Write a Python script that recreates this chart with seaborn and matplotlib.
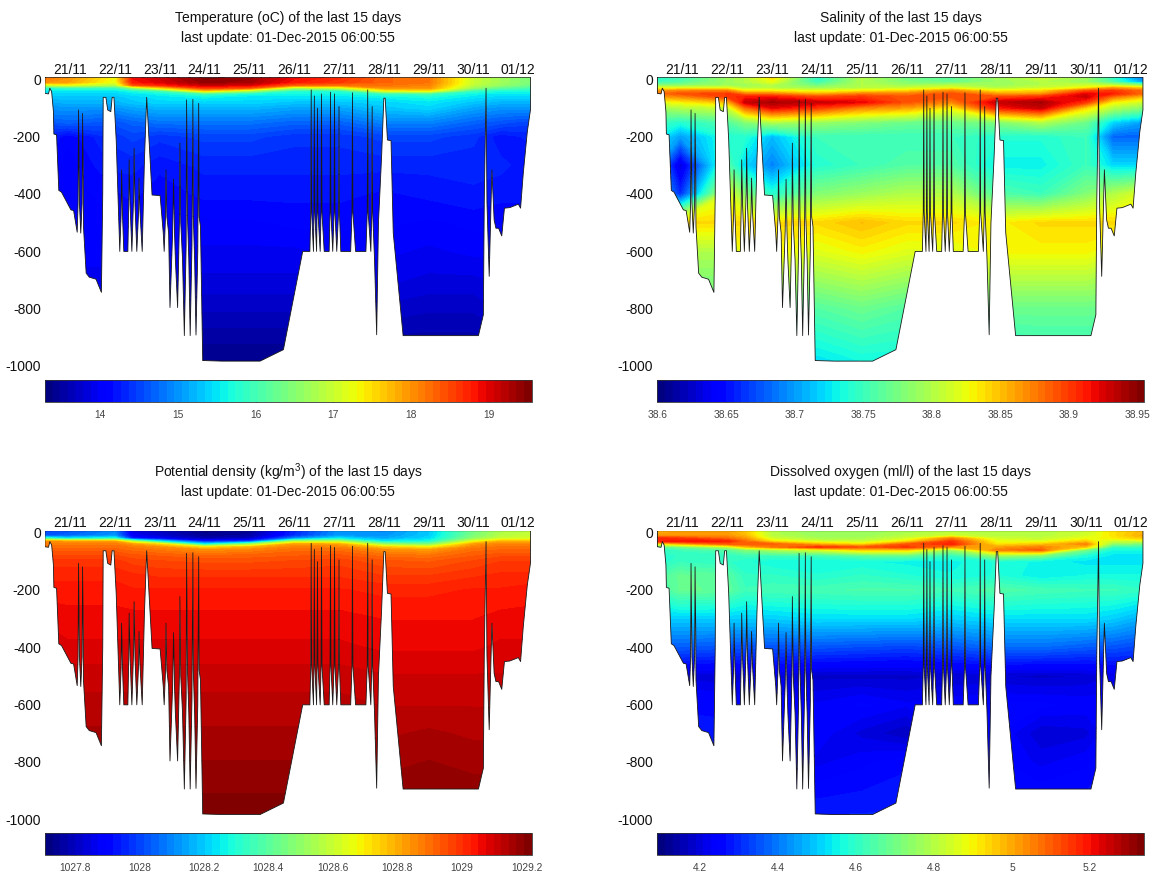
# glider section plots, last 15 days
import numpy as np
import matplotlib
matplotlib.use('Agg')
import matplotlib.pyplot as plt
from matplotlib.colors import BoundaryNorm
from matplotlib.patches import Polygon
import seaborn as sns

# axis labels
day_labels = ['21/11', '22/11', '23/11', '24/11', '25/11', '26/11', '27/11', '28/11', '29/11', '30/11', '01/12']
day_ticks = [0, 1, 2, 3, 4, 5, 6, 7, 8, 9, 10]
depth_ticks = [0, -200, -400, -600, -800, -1000]

# sample positions of the grids below
days = [-0.56, -0.05, 1.0, 1.4, 2.0, 3.0, 4.0, 5.0, 6.0, 7.0, 8.0, 9.0, 9.6, 10.3]
depths = [-7, 10, 20, 30, 40, 50, 60, 80, 100, 150, 200, 300, 400, 500, 600, 700, 800, 1000]

# bottom of the sampled area (dives)
edge_day = [-0.56, -0.56, -0.48, -0.45, -0.41, -0.37, -0.36, -0.30, -0.25, -0.19, 0.02, 0.08, 0.16, 0.18, 0.19, 0.21, 0.24,
            0.27, 0.28, 0.295, 0.30, 0.36, 0.43, 0.58, 0.70, 0.71, 0.73, 0.74, 0.80, 0.84, 0.91, 0.94, 0.98, 1.03,
            1.10, 1.11, 1.14, 1.15, 1.17, 1.20, 1.29, 1.31, 1.32, 1.34, 1.38, 1.42, 1.43, 1.45, 1.49, 1.53, 1.54, 1.56, 1.61,
            1.66, 1.71, 1.75, 1.83, 2.01, 2.08, 2.10, 2.13, 2.14, 2.16, 2.20, 2.23, 2.29, 2.31, 2.33, 2.35, 2.40,
            2.44, 2.45, 2.47, 2.51, 2.55, 2.59, 2.60, 2.62, 2.65, 2.68, 2.72, 2.74, 2.75, 2.78, 2.81, 2.85, 2.87, 2.88, 2.91, 2.95,
            2.96, 3.38, 4.24, 4.76, 5.19, 5.35, 5.37, 5.38, 5.39, 5.43, 5.44, 5.45, 5.46,
            5.50, 5.51, 5.52, 5.53, 5.58, 5.60, 5.61, 5.62, 5.67, 5.78, 5.80, 5.81, 5.82, 5.86, 5.89, 5.90, 5.91, 5.95,
            5.99, 6.00, 6.01, 6.04, 6.26, 6.29, 6.30, 6.31, 6.37,
            6.60, 6.63, 6.64, 6.65, 6.71, 6.73, 6.74, 6.75, 6.79, 6.84, 6.88, 6.95, 7.00, 7.03, 7.08, 7.16, 7.21, 7.43, 9.11, 9.22, 9.24,
            9.28, 9.30, 9.35, 9.38, 9.41, 9.46, 9.50, 9.56, 9.63, 9.69, 9.81, 10.00, 10.05, 10.11, 10.20, 10.27, 10.27, -0.56]
edge_depth = [-7, 49, 51, 31, 43, 113, 191, 194, 388, 394, 456, 458, 534, 433, 107, 433, 537,
              433, 119, 340, 514, 677, 691, 698, 744, 636, 398, 63, 63, 107, 113, 63, 63, 212,
              549, 601, 470, 316, 470, 601, 601, 440, 281, 440, 601, 400, 241, 440, 601, 460, 345, 460, 601,
              281, 63, 177, 404, 406, 537, 601, 480, 316, 480, 537, 797, 530, 349, 530, 630, 797,
              500, 223, 500, 630, 895, 580, 72, 480, 630, 895, 580, 70, 480, 630, 893, 600, 84, 480, 514, 893,
              982, 984, 984, 944, 601, 601, 465, 37, 465, 601, 465, 58, 465,
              601, 465, 101, 465, 601, 465, 51, 465, 601, 601, 465, 45, 465, 601, 465, 51, 465, 601,
              465, 95, 465, 601, 601, 465, 47, 465, 601,
              601, 465, 37, 465, 601, 465, 95, 465, 619, 892, 500, 270, 66, 66, 212, 214, 537, 895, 895, 822, 427,
              31, 430, 688, 500, 316, 491, 520, 520, 547, 450, 448, 436, 450, 328, 183, 107, -7, -7]

temperature = [
    [18.2, 18.0, 17.3, 18.9, 19.1, 19.5, 19.4, 18.9, 18.7, 18.3, 18.2, 17.0, 16.7, 16.4],
    [18.0, 17.9, 17.2, 18.8, 19.0, 19.4, 19.3, 18.8, 18.6, 18.3, 18.2, 17.0, 16.7, 16.4],
    [17.0, 17.2, 16.8, 18.4, 18.7, 19.1, 19.0, 18.3, 18.2, 18.2, 18.1, 16.9, 16.6, 16.3],
    [15.8, 15.9, 15.9, 16.6, 17.5, 18.6, 18.4, 16.8, 17.0, 18.0, 18.0, 16.6, 16.2, 16.0],
    [15.5, 15.5, 15.5, 15.7, 16.0, 17.6, 16.8, 15.8, 15.8, 17.2, 17.4, 15.9, 15.7, 15.7],
    [15.4, 15.4, 15.4, 15.5, 15.6, 16.0, 15.7, 15.6, 15.6, 15.9, 16.0, 15.6, 15.5, 15.5],
    [15.3, 15.3, 15.3, 15.4, 15.5, 15.6, 15.5, 15.5, 15.5, 15.6, 15.7, 15.5, 15.4, 15.4],
    [15.1, 15.2, 15.2, 15.3, 15.4, 15.4, 15.4, 15.3, 15.3, 15.4, 15.5, 15.3, 15.2, 15.2],
    [15.0, 15.0, 15.0, 15.1, 15.2, 15.2, 15.2, 15.1, 15.1, 15.3, 15.4, 15.1, 15.0, 15.0],
    [14.6, 14.7, 14.6, 14.7, 14.8, 14.8, 14.8, 14.7, 14.7, 14.9, 14.9, 14.7, 14.6, 14.5],
    [14.3, 14.1, 14.4, 14.5, 14.4, 14.5, 14.5, 14.4, 14.4, 14.5, 14.5, 14.4, 14.2, 14.3],
    [14.2, 14.0, 14.3, 14.3, 14.2, 14.3, 14.3, 14.3, 14.3, 14.3, 14.3, 14.3, 14.3, 14.2],
    [14.1, 14.0, 14.15, 14.2, 14.1, 14.2, 14.2, 14.2, 14.2, 14.15, 14.2, 14.25, 14.2, 14.2],
    [14.05, 14.05, 14.05, 14.1, 14.05, 14.05, 14.05, 14.1, 14.1, 14.1, 14.05, 14.1, 14.1, 14.1],
    [14.0, 14.0, 14.0, 14.0, 14.0, 13.95, 13.95, 13.95, 14.0, 14.0, 13.95, 14.0, 14.0, 14.0],
    [13.95, 13.95, 13.95, 13.9, 13.9, 13.85, 13.85, 13.85, 13.85, 13.9, 13.85, 13.85, 13.9, 13.9],
    [13.9, 13.85, 13.85, 13.8, 13.8, 13.7, 13.7, 13.7, 13.7, 13.75, 13.7, 13.7, 13.8, 13.8],
    [13.6, 13.6, 13.6, 13.5, 13.45, 13.35, 13.35, 13.35, 13.4, 13.4, 13.4, 13.4, 13.5, 13.5],
]

salinity = [
    [38.74, 38.75, 38.79, 38.80, 38.84, 38.74, 38.80, 38.77, 38.76, 38.79, 38.81, 38.79, 38.74, 38.68],
    [38.75, 38.76, 38.79, 38.80, 38.82, 38.75, 38.80, 38.78, 38.77, 38.79, 38.80, 38.79, 38.76, 38.70],
    [38.78, 38.78, 38.79, 38.79, 38.80, 38.77, 38.80, 38.79, 38.80, 38.79, 38.80, 38.81, 38.80, 38.78],
    [38.82, 38.82, 38.82, 38.80, 38.80, 38.79, 38.80, 38.81, 38.82, 38.80, 38.81, 38.83, 38.86, 38.84],
    [38.86, 38.87, 38.87, 38.83, 38.83, 38.82, 38.83, 38.84, 38.87, 38.83, 38.84, 38.89, 38.90, 38.88],
    [38.88, 38.89, 38.90, 38.87, 38.87, 38.85, 38.87, 38.87, 38.89, 38.86, 38.86, 38.92, 38.91, 38.88],
    [38.86, 38.87, 38.90, 38.91, 38.91, 38.89, 38.90, 38.89, 38.89, 38.89, 38.90, 38.93, 38.88, 38.85],
    [38.82, 38.83, 38.85, 38.93, 38.94, 38.93, 38.92, 38.89, 38.87, 38.93, 38.94, 38.90, 38.83, 38.81],
    [38.79, 38.80, 38.81, 38.88, 38.92, 38.90, 38.87, 38.86, 38.83, 38.91, 38.93, 38.84, 38.80, 38.78],
    [38.75, 38.74, 38.76, 38.78, 38.80, 38.79, 38.78, 38.77, 38.77, 38.78, 38.80, 38.77, 38.72, 38.70],
    [38.73, 38.70, 38.74, 38.74, 38.71, 38.75, 38.75, 38.75, 38.75, 38.74, 38.74, 38.75, 38.68, 38.68],
    [38.70, 38.63, 38.76, 38.72, 38.69, 38.74, 38.75, 38.76, 38.76, 38.73, 38.73, 38.75, 38.72, 38.72],
    [38.72, 38.66, 38.82, 38.78, 38.74, 38.78, 38.79, 38.80, 38.80, 38.76, 38.75, 38.78, 38.80, 38.82],
    [38.83, 38.84, 38.84, 38.84, 38.84, 38.84, 38.85, 38.84, 38.84, 38.83, 38.84, 38.84, 38.84, 38.84],
    [38.80, 38.80, 38.80, 38.83, 38.83, 38.82, 38.83, 38.82, 38.82, 38.83, 38.83, 38.83, 38.82, 38.82],
    [38.78, 38.78, 38.78, 38.80, 38.80, 38.79, 38.80, 38.79, 38.79, 38.80, 38.80, 38.80, 38.79, 38.79],
    [38.77, 38.77, 38.77, 38.77, 38.77, 38.76, 38.77, 38.76, 38.76, 38.77, 38.77, 38.77, 38.77, 38.77],
    [38.74, 38.74, 38.74, 38.73, 38.73, 38.72, 38.73, 38.73, 38.73, 38.73, 38.74, 38.74, 38.74, 38.74],
]

density = [
    [1028.00, 1028.02, 1028.10, 1027.85, 1027.80, 1027.72, 1027.74, 1027.95, 1028.12, 1028.10, 1028.20, 1028.45, 1028.55, 1028.58],
    [1028.03, 1028.05, 1028.12, 1027.87, 1027.82, 1027.74, 1027.76, 1027.97, 1028.13, 1028.12, 1028.20, 1028.46, 1028.56, 1028.60],
    [1028.35, 1028.25, 1028.30, 1027.95, 1027.88, 1027.78, 1027.80, 1028.10, 1028.25, 1028.15, 1028.22, 1028.50, 1028.60, 1028.62],
    [1028.84, 1028.82, 1028.80, 1028.55, 1028.25, 1027.95, 1028.00, 1028.55, 1028.55, 1028.25, 1028.28, 1028.65, 1028.78, 1028.78],
    [1028.88, 1028.88, 1028.88, 1028.82, 1028.72, 1028.25, 1028.50, 1028.82, 1028.80, 1028.50, 1028.45, 1028.82, 1028.86, 1028.86],
    [1028.90, 1028.90, 1028.90, 1028.88, 1028.84, 1028.70, 1028.78, 1028.87, 1028.86, 1028.74, 1028.68, 1028.87, 1028.89, 1028.89],
    [1028.92, 1028.92, 1028.92, 1028.90, 1028.88, 1028.84, 1028.86, 1028.90, 1028.90, 1028.84, 1028.82, 1028.90, 1028.91, 1028.91],
    [1028.96, 1028.96, 1028.96, 1028.94, 1028.93, 1028.91, 1028.92, 1028.93, 1028.94, 1028.90, 1028.89, 1028.93, 1028.95, 1028.95],
    [1028.99, 1028.99, 1028.99, 1028.97, 1028.96, 1028.95, 1028.95, 1028.96, 1028.97, 1028.94, 1028.93, 1028.96, 1028.98, 1028.98],
    [1029.02, 1029.02, 1029.02, 1029.01, 1029.00, 1029.00, 1029.00, 1029.00, 1029.00, 1028.98, 1028.98, 1029.00, 1029.01, 1029.01],
    [1029.04, 1029.04, 1029.04, 1029.03, 1029.03, 1029.03, 1029.03, 1029.03, 1029.03, 1029.02, 1029.02, 1029.03, 1029.03, 1029.04],
    [1029.07, 1029.06, 1029.06, 1029.06, 1029.06, 1029.06, 1029.06, 1029.06, 1029.06, 1029.05, 1029.05, 1029.05, 1029.06, 1029.06],
    [1029.09, 1029.08, 1029.08, 1029.08, 1029.08, 1029.08, 1029.08, 1029.08, 1029.08, 1029.07, 1029.07, 1029.07, 1029.08, 1029.08],
    [1029.11, 1029.11, 1029.11, 1029.11, 1029.11, 1029.11, 1029.11, 1029.11, 1029.11, 1029.10, 1029.10, 1029.10, 1029.10, 1029.10],
    [1029.13, 1029.13, 1029.13, 1029.13, 1029.13, 1029.13, 1029.13, 1029.13, 1029.13, 1029.12, 1029.12, 1029.12, 1029.12, 1029.12],
    [1029.15, 1029.15, 1029.15, 1029.15, 1029.15, 1029.15, 1029.15, 1029.15, 1029.15, 1029.14, 1029.15, 1029.14, 1029.14, 1029.14],
    [1029.17, 1029.17, 1029.17, 1029.17, 1029.17, 1029.17, 1029.17, 1029.17, 1029.17, 1029.16, 1029.17, 1029.16, 1029.16, 1029.16],
    [1029.20, 1029.20, 1029.20, 1029.20, 1029.21, 1029.21, 1029.21, 1029.21, 1029.21, 1029.20, 1029.20, 1029.20, 1029.20, 1029.20],
]

oxygen = [
    [4.99, 5.00, 5.00, 4.95, 4.80, 4.75, 4.76, 4.78, 4.80, 4.80, 4.80, 4.83, 4.92, 4.98],
    [5.02, 5.02, 5.02, 4.98, 4.80, 4.76, 4.76, 4.80, 4.84, 4.80, 4.80, 4.84, 4.92, 5.00],
    [5.18, 5.15, 5.08, 5.02, 4.84, 4.78, 4.78, 4.84, 5.05, 4.84, 4.82, 4.88, 4.90, 4.95],
    [5.18, 5.20, 5.18, 5.08, 4.92, 4.84, 4.82, 4.92, 5.15, 4.88, 4.86, 4.95, 4.82, 4.82],
    [4.85, 4.95, 5.08, 5.10, 5.10, 4.98, 4.92, 5.10, 5.18, 4.92, 4.95, 5.05, 4.72, 4.70],
    [4.66, 4.70, 4.80, 4.95, 5.05, 5.15, 5.10, 5.15, 5.02, 5.00, 5.05, 4.95, 4.60, 4.60],
    [4.60, 4.62, 4.66, 4.72, 4.78, 4.85, 4.95, 4.95, 4.76, 5.05, 5.10, 4.70, 4.56, 4.56],
    [4.58, 4.60, 4.60, 4.62, 4.62, 4.62, 4.66, 4.68, 4.60, 4.76, 4.72, 4.57, 4.53, 4.53],
    [4.58, 4.61, 4.60, 4.58, 4.56, 4.56, 4.56, 4.55, 4.55, 4.58, 4.55, 4.53, 4.53, 4.53],
    [4.64, 4.68, 4.66, 4.60, 4.60, 4.58, 4.60, 4.58, 4.56, 4.58, 4.54, 4.56, 4.56, 4.56],
    [4.62, 4.68, 4.67, 4.62, 4.63, 4.63, 4.64, 4.64, 4.62, 4.65, 4.63, 4.62, 4.62, 4.60],
    [4.50, 4.50, 4.50, 4.50, 4.50, 4.52, 4.52, 4.52, 4.50, 4.52, 4.52, 4.52, 4.50, 4.46],
    [4.36, 4.36, 4.35, 4.35, 4.35, 4.35, 4.34, 4.33, 4.35, 4.38, 4.38, 4.36, 4.35, 4.33],
    [4.24, 4.20, 4.19, 4.20, 4.21, 4.18, 4.18, 4.18, 4.19, 4.19, 4.18, 4.19, 4.21, 4.22],
    [4.28, 4.26, 4.25, 4.24, 4.24, 4.23, 4.25, 4.23, 4.24, 4.25, 4.25, 4.24, 4.24, 4.24],
    [4.30, 4.28, 4.28, 4.25, 4.25, 4.24, 4.20, 4.17, 4.25, 4.25, 4.19, 4.20, 4.25, 4.25],
    [4.30, 4.28, 4.28, 4.27, 4.26, 4.22, 4.24, 4.26, 4.26, 4.25, 4.22, 4.24, 4.27, 4.27],
    [4.30, 4.29, 4.29, 4.29, 4.29, 4.29, 4.29, 4.29, 4.29, 4.29, 4.29, 4.29, 4.29, 4.29],
]

# colour ranges and colorbar ticks
temp_range = (13.288, 19.553)
temp_ticks = [14, 15, 16, 17, 18, 19]
temp_ticklabels = ['14', '15', '16', '17', '18', '19']
sal_range = (38.6, 38.955)
sal_ticks = [38.6, 38.65, 38.7, 38.75, 38.8, 38.85, 38.9, 38.95]
sal_ticklabels = ['38.6', '38.65', '38.7', '38.75', '38.8', '38.85', '38.9', '38.95']
dens_range = (1027.708, 1029.216)
dens_ticks = [1027.8, 1028, 1028.2, 1028.4, 1028.6, 1028.8, 1029, 1029.2]
dens_ticklabels = ['1027.8', '1028', '1028.2', '1028.4', '1028.6', '1028.8', '1029', '1029.2']
oxy_range = (4.09, 5.339)
oxy_ticks = [4.2, 4.4, 4.6, 4.8, 5, 5.2]
oxy_ticklabels = ['4.2', '4.4', '4.6', '4.8', '5', '5.2']

update_line = 'last update: 01-Dec-2015 06:00:55'

sns.set_theme(style='white')
plt.rcParams['font.family'] = ['Liberation Sans', 'DejaVu Sans']
plt.rcParams['mathtext.default'] = 'regular'
plt.rcParams['axes.unicode_minus'] = False

W, H = 1153, 872
fig = plt.figure(figsize=(W / 100, H / 100), dpi=100)
jet = matplotlib.colormaps['jet'].resampled(64)
edge_xy = np.column_stack([edge_day, -np.array(edge_depth)])


def section(left, top, cbar_top, title, grid, vrange, ticks, ticklabels):
    # main section, positions in pixels of the final image
    ax = fig.add_axes([left / W, 1 - (top + 288.4) / H, 486.7 / W, 288.4 / H])
    levels = np.linspace(vrange[0], vrange[1], 65)
    norm = BoundaryNorm(levels, 64)
    cs = ax.contourf(days, -np.array(depths), np.array(grid), levels=levels,
                     cmap=jet, norm=norm)
    cs.set_clip_path(Polygon(edge_xy, closed=True, transform=ax.transData))
    sns.lineplot(x=edge_xy[:, 0], y=edge_xy[:, 1], sort=False, estimator=None,
                 color='#1a1a1a', linewidth=0.6, ax=ax, legend=False)
    ax.set_xlim(-0.558, 10.298)
    ax.set_ylim(-1000, 7)
    ax.set_xlabel('')
    ax.set_ylabel('')
    ax.xaxis.tick_top()
    ax.set_xticks(day_ticks)
    ax.set_xticklabels(day_labels, fontsize=10, color='#111111')
    ax.set_yticks(depth_ticks)
    ax.set_yticklabels([str(d) for d in depth_ticks], fontsize=10, color='#111111')
    ax.tick_params(axis='x', length=0, pad=0.2)
    ax.tick_params(axis='y', length=0, pad=3)
    sns.despine(ax=ax, left=True, right=True, top=True, bottom=True)

    # colorbar under the section
    cax = fig.add_axes([left / W, 1 - (cbar_top + 21.7) / H, 486.7 / W, 21.7 / H])
    cbar = fig.colorbar(cs, cax=cax, orientation='horizontal', ticks=ticks)
    cbar.set_ticklabels(ticklabels)
    cax.xaxis.set_ticks([], minor=True)
    cax.tick_params(axis='x', which='major', direction='in', length=2.5, width=0.6, top=True, bottom=True,
                    labelsize=7.4, labelcolor='#444444', color='#222222', pad=6)
    cbar.outline.set_linewidth(0.6)
    cbar.outline.set_edgecolor('#333333')

    fig.text((left + 243) / W, 1 - (top - 59) / H, title, ha='center', va='center',
             fontsize=10, color='#111111')
    fig.text((left + 243) / W, 1 - (top - 39) / H, update_line, ha='center', va='center',
             fontsize=10, color='#111111')


section(45, 77.3, 380, 'Temperature (oC) of the last 15 days', temperature,
        temp_range, temp_ticks, temp_ticklabels)
section(657.5, 77.3, 380, 'Salinity of the last 15 days', salinity,
        sal_range, sal_ticks, sal_ticklabels)
section(45, 530.7, 833.3, 'Potential density (kg/m$^3$) of the last 15 days', density,
        dens_range, dens_ticks, dens_ticklabels)
section(657.5, 530.7, 833.3, 'Dissolved oxygen (ml/l) of the last 15 days', oxygen,
        oxy_range, oxy_ticks, oxy_ticklabels)

plt.savefig('out.png', dpi=100)
